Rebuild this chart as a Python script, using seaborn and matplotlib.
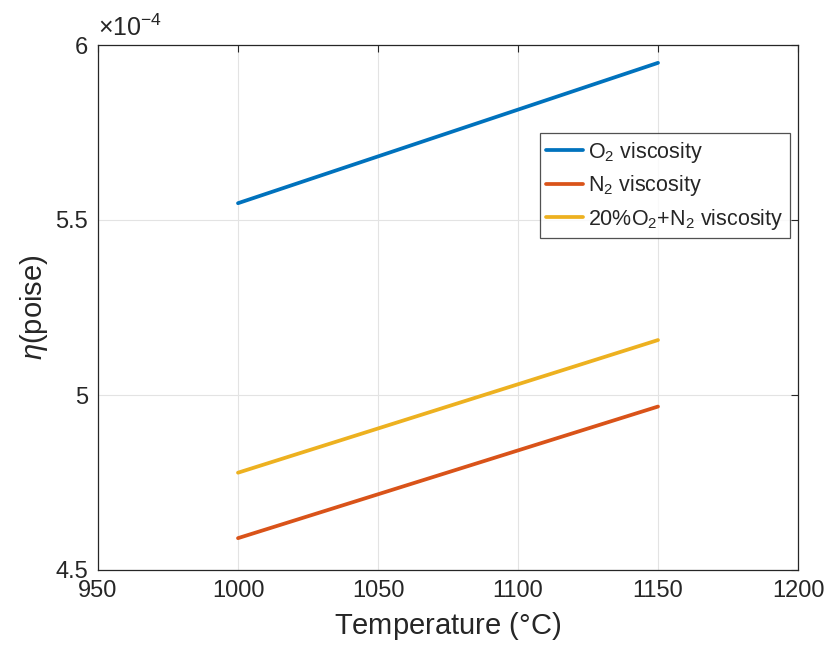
import numpy as np
import pandas as pd
import matplotlib
matplotlib.use("Agg")
import matplotlib.pyplot as plt
import seaborn as sns
from matplotlib.ticker import FuncFormatter

temps = [1000, 1150]
o2_visc = [5.548e-4, 5.949e-4]
n2_visc = [4.591e-4, 4.967e-4]
mix_visc = [4.778e-4, 5.157e-4]
labels = [r"O$_2$ viscosity", r"N$_2$ viscosity", r"20%O$_2$+N$_2$ viscosity"]
colors = ["#0072BD", "#D95319", "#EDB120"]

df = pd.concat([
    pd.DataFrame({"T": temps, "eta": o2_visc, "series": labels[0]}),
    pd.DataFrame({"T": temps, "eta": n2_visc, "series": labels[1]}),
    pd.DataFrame({"T": temps, "eta": mix_visc, "series": labels[2]}),
])

sns.set_theme(style="white")
plt.rcParams["font.family"] = ["Liberation Sans", "DejaVu Sans"]
plt.rcParams["mathtext.fontset"] = "custom"
plt.rcParams["mathtext.rm"] = "Liberation Sans"
plt.rcParams["mathtext.it"] = "Liberation Sans:italic"

fig = plt.figure(figsize=(8.34, 6.6), dpi=100)
ax = fig.add_axes([98/834, 1-570/660, 700/834, 525/660])

sns.lineplot(data=df, x="T", y="eta", hue="series", palette=colors,
             linewidth=2.7, ax=ax, legend=True)

ax.set_xlim(950, 1200)
ax.set_ylim(4.5e-4, 6e-4)
ax.set_xticks([950, 1000, 1050, 1100, 1150, 1200])
ax.set_yticks([4.5e-4, 5e-4, 5.5e-4, 6e-4])
ax.yaxis.set_major_formatter(FuncFormatter(lambda v, p: "%g" % round(v / 1e-4, 3)))
ax.text(0.0, 1.008, r"$\times$10$^{-4}$", transform=ax.transAxes,
        fontsize=18, color="#262626", ha="left", va="bottom")

ax.grid(True, color="#e3e3e3", linewidth=0.8)
ax.tick_params(direction="in", length=5, width=0.8, labelsize=17,
               colors="#262626", top=True, right=True, pad=7)
for sp in ax.spines.values():
    sp.set_color("#262626")
    sp.set_linewidth(0.9)

ax.set_xlabel("Temperature ($\\degree$C)", fontsize=21, color="#262626", labelpad=6)
ax.set_ylabel(r"$\mathit{\eta}$(poise)", fontsize=21, color="#262626", labelpad=4)

leg = ax.legend(loc="upper right", bbox_to_anchor=(0.989, 0.832),
                fontsize=15.5, frameon=True, fancybox=False, handlelength=1.7,
                handletextpad=0.25, borderpad=0.3, labelspacing=0.4,
                borderaxespad=0.0)
leg.get_frame().set_edgecolor("#262626")
leg.get_frame().set_linewidth(0.9)
for line in leg.get_lines():
    line.set_linewidth(2.7)

fig.savefig("out.png", dpi=100)
